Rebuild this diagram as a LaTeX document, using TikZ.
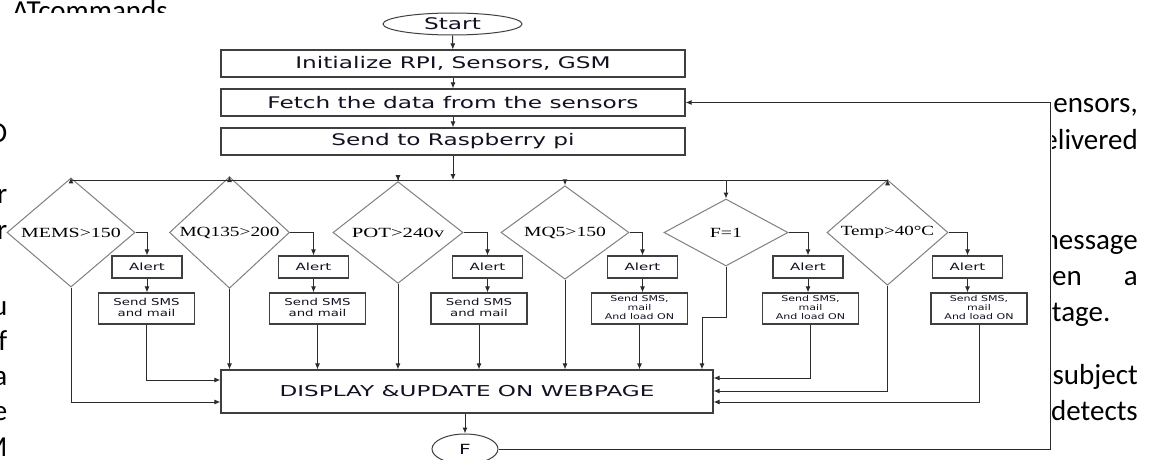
\documentclass[tikz,border=0pt]{standalone}
\usepackage{fontspec}
\setmainfont{Carlito}
\newfontfamily\dv{DejaVu Sans}
\newfontfamily\tnr{Liberation Serif}
\usetikzlibrary{shapes.geometric,arrows.meta}
\newcommand{\sx}[2]{\scalebox{#1}[1]{#2}}
\definecolor{boxc}{HTML}{3F3F3F}
\definecolor{diac}{HTML}{808080}
\definecolor{linec}{HTML}{2B2B2B}
\definecolor{txtc}{HTML}{111122}
\tikzset{
  box/.style={draw=boxc, line width=1.1pt, fill=white, inner sep=0pt, text=txtc},
  topbox/.style={box, minimum width=464pt, minimum height=27pt, font=\dv\fontsize{16}{19}\selectfont},
  alertbox/.style={box, minimum width=70pt, minimum height=22pt, font=\dv\fontsize{10}{12}\selectfont},
  smsbox/.style={box, minimum width=96pt, minimum height=31pt},
  dia/.style={diamond, draw=diac, line width=1pt, inner sep=0pt, minimum height=67pt, font=\tnr\fontsize{14}{16}\selectfont},
  arr/.style={-{Latex[length=6pt,width=5pt]}, line width=1pt, draw=linec},
  ln/.style={line width=1pt, draw=linec},
  pg/.style={inner sep=0pt, font=\fontsize{29}{35}\selectfont, text=black},
}
\newcommand{\twol}[1]{\fontsize{9.5}{11}\selectfont\sx{1.4}{\begin{tabular}{@{}c@{}}#1\end{tabular}}}
\newcommand{\threel}[1]{\fontsize{8}{9}\selectfont\sx{1.38}{\begin{tabular}{@{}c@{}}#1\end{tabular}}}
\begin{document}
\begin{tikzpicture}[x=1pt,y=-1pt]
\useasboundingbox (0,0) rectangle (1152,460);
\clip (0,0) rectangle (1152,460);
\fill[white] (0,0) rectangle (1152,460);

% surrounding page text
\node[pg, anchor=base west] (pa) at (12,21) {ATcommands};
\node[pg, anchor=base east] (pl1) at (7.5,142) {O};
\node[pg, anchor=base east] (pl2) at (7.5,203) {r};
\node[pg, anchor=base east] (pl3) at (7.5,239) {r};
\node[pg, anchor=base east] (pl4) at (7.5,315) {u};
\node[pg, anchor=base east] (pl5) at (7.5,350) {f};
\node[pg, anchor=base east] (pl6) at (7.5,385) {a};
\node[pg, anchor=base east] (pl7) at (7.5,420) {e};
\node[pg, anchor=base east] (pl8) at (7.5,456) {M};
\node[pg, anchor=base east] (pr1) at (1138,113) {sensors,};
\node[pg, anchor=base east] (pr2) at (1138,149) {delivered};
\node[pg, anchor=base east] (pr3) at (1138,249) {message};
\node[pg, anchor=base east] (pr4) at (1082,285) {when};
\node[pg, anchor=base east] (pr5) at (1138,285) {a};
\node[pg, anchor=base west] (pr6) at (1017,321) {voltage.};
\node[pg, anchor=base east] (pr7) at (1138,384) {subject};
\node[pg, anchor=base east] (pr8) at (1138,420) {detects};

% figure background
\fill[white] (8,13) rectangle (1052,460);

% top part
\node[ellipse, draw=boxc, line width=1pt, fill=white, minimum width=139pt, minimum height=22pt, inner sep=0pt, text=txtc, font=\dv\fontsize{16}{19}\selectfont] (start) at (452.5,24) {\sx{1.45}{Start}};
\node[topbox] (init) at (453,63.5) {\sx{1.45}{Initialize RPI, Sensors, GSM}};
\node[topbox] (fetch) at (453,102.5) {\sx{1.45}{Fetch the data from the sensors}};
\node[topbox] (send) at (453,141.5) {\sx{1.45}{Send to Raspberry pi}};
\coordinate (hl) at (453,180);

\draw[arr] (start) -- (init);
\draw[arr] (init) -- (fetch);
\draw[arr] (fetch) -- (send);
\draw[arr] (send) -- (hl);

% decisions
\node[dia, minimum width=128pt] (d1) at (71,232.5) {\sx{1.42}{MEMS>150}};
\node[dia, minimum width=120pt] (d2) at (229.5,232.5) {\sx{1.38}{MQ135>200}};
\node[dia, minimum width=130pt] (d3) at (398,232.5) {\sx{1.48}{POT>240v}};
\node[dia, minimum width=128pt] (d4) at (565,232.5) {\sx{1.4}{MQ5>150}};
\node[dia, minimum width=124pt] (d5) at (726,232.5) {\sx{1.42}{F=1}};
\node[dia, minimum width=121pt] (d6) at (887.5,232.5) {\sx{1.36}{Temp>40°C}};

\draw[ln] (d1.north |- hl) -- (d6.north |- hl);
\foreach \d in {d1,d2,d3,d4,d5,d6} {\draw[arr] (\d.north |- hl) -- (\d.north);}

% alert boxes
\node[alertbox] (a1) at (147,267) {\sx{1.5}{Alert}};
\node[alertbox] (a2) at (313.5,267) {\sx{1.5}{Alert}};
\node[alertbox] (a3) at (487.5,267) {\sx{1.5}{Alert}};
\node[alertbox] (a4) at (642.5,267) {\sx{1.5}{Alert}};
\node[alertbox] (a5) at (808,267) {\sx{1.5}{Alert}};
\node[alertbox] (a6) at (967.5,267) {\sx{1.5}{Alert}};

% SMS boxes
\node[smsbox, font=\dv] (s1) at (146.5,308.5) {\twol{Send SMS\\and mail}};
\node[smsbox, font=\dv] (s2) at (317.5,308.5) {\twol{Send SMS\\and mail}};
\node[smsbox, font=\dv] (s3) at (479,308.5) {\twol{Send SMS\\and mail}};
\node[smsbox, font=\dv] (s4) at (639.5,308.5) {\threel{Send SMS,\\mail\\And load ON}};
\node[smsbox, font=\dv] (s5) at (810.5,308.5) {\threel{Send SMS,\\mail\\And load ON}};
\node[smsbox, font=\dv] (s6) at (979,308.5) {\threel{Send SMS,\\mail\\And load ON}};

\foreach \i in {1,...,6} {
  \draw[arr] (d\i.east) -| (a\i.north);
  \draw[arr] (a\i.south) -- (a\i.south |- s\i.north);
}

% display
\node[box, minimum width=492pt, minimum height=43pt, font=\dv\fontsize{15}{18}\selectfont] (disp) at (467,391.5) {\sx{1.54}{DISPLAY \&UPDATE ON WEBPAGE}};
\node[ellipse, draw=boxc, line width=1pt, fill=white, minimum width=66pt, minimum height=30pt, inner sep=0pt, text=txtc, font=\dv\fontsize{14}{17}\selectfont] (fin) at (465,449) {\sx{1.45}{F}};

% into display from left
\draw[arr] (s1.south) |- ([yshift=11.5pt]disp.west);
\draw[arr] (d1.south) |- ([yshift=-10.5pt]disp.west);
% into display from top
\draw[arr] (d2.south) -- (d2.south |- disp.north);
\draw[arr] (s2.south) -- (s2.south |- disp.north);
\draw[arr] (d3.south) -- (d3.south |- disp.north);
\draw[arr] (s3.south) -- (s3.south |- disp.north);
\draw[arr] (d4.south) -- (d4.south |- disp.north);
\draw[arr] (s4.south) -- (s4.south |- disp.north);
\coordinate (j5) at (702,317);
\draw[arr] (d5.south) |- (j5) -- (j5 |- disp.north);
% into display from right
\draw[arr] (s5.south) |- ([yshift=13.5pt]disp.east);
\draw[arr] (d6.south) |- ([yshift=0.5pt]disp.east);
\draw[arr] (s6.south) |- ([yshift=-10.5pt]disp.east);

% to end and feedback
\draw[arr] (disp.south -| fin.north) -- (fin.north);
\coordinate (fb) at (1050,449);
\draw[arr] (fin.east) -- (fin.east -| fb) |- (fetch.east);
\end{tikzpicture}
\end{document}
